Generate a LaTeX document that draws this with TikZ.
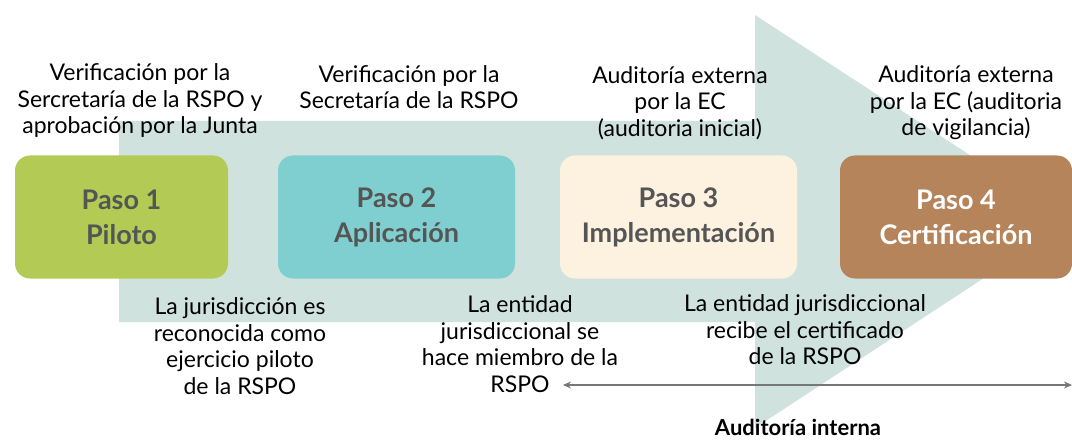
\documentclass[tikz,border=0pt]{standalone}
\usepackage{fontspec}
\setmainfont{Lato}
\usetikzlibrary{positioning,arrows.meta}
\definecolor{arrowfill}{HTML}{CFE2DE}
\definecolor{pasoA}{HTML}{B3CB55}
\definecolor{pasoB}{HTML}{80CFD0}
\definecolor{pasoC}{HTML}{FCF2DF}
\definecolor{pasoD}{HTML}{B5845A}
\definecolor{boxtext}{HTML}{555555}
\definecolor{linegrey}{HTML}{777777}
\tikzset{
	paso/.style={rounded corners=15pt, minimum height=123pt, align=center,
		font=\bfseries\fontsize{27}{35}\selectfont},
	note/.style={align=center, font=\fontsize{23}{26.5}\selectfont, text=black},
}

\begin{document}
\begin{tikzpicture}[x=1pt,y=-1pt]
				            \useasboundingbox (0,0) rectangle (1072,441);

				            % big arrow behind the steps
				            \fill[arrowfill] (119,121) -- (755,121) -- (755,15) -- (1071,221)
				                -- (755,428) -- (755,322) -- (119,322) -- cycle;

				            \foreach \n/\x/\w/\c/\tc/\t in {p1/121.5/213/pasoA/boxtext/{Paso 1\\Piloto},
				                    p2/396.5/237/pasoB/boxtext/{Paso 2\\Aplicación},
				                    p3/678.5/237/pasoC/boxtext/{Paso 3\\Implementación},
				                    p4/956/232/pasoD/white/{Paso 4\\Certificación}} {
						            \node[paso, fill=\c, text=\tc, minimum width=\w pt] (\n) at (\x,217) {\t};
					            }

				            \node[note] (v1) at (140,101) {Verificación por la\\Sercretaría de la RSPO y\\aprobación por la Junta};
				            \node[note] (v2) at (409,87) {Verificación por la\\Secretaría de la RSPO};
				            \node[note] (v3) at (680,103) {Auditoría externa\\por la EC\\(auditoria inicial)};
				            \node[note] (v4) at (966,103) {Auditoría externa\\por la EC (auditoria\\de vigilancia)};

				            \node[note] (b1) at (240,346) {La jurisdicción es\\reconocida como\\ejercicio piloto\\de la RSPO};
				            \node[note] (b2) at (520,344) {La entidad\\jurisdiccional se\\hace miembro de la\\RSPO};
				            \node[note] (b3) at (805,330) {La entidad jurisdiccional\\recibe el certificado\\de la RSPO};

				            \coordinate (ai) at (563,385);
				            \coordinate (af) at (1072,385);
				            \draw[linegrey, line width=1.5pt, {Stealth[length=8pt,width=7pt]}-{Stealth[length=8pt,width=7pt]}] (ai) -- (af);
				            \node[note, font=\bfseries\fontsize{22}{26.5}\selectfont] (int) at (798,427) {Auditoría interna};

			            \end{tikzpicture}
\end{document}
